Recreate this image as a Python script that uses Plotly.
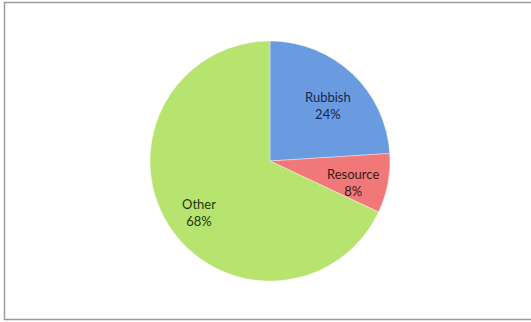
import math
import plotly.graph_objects as go

# Share of items by category
categories = ["Rubbish", "Resource", "Other"]
shares = [24, 8, 68]

slice_colors = ["#6a9be0", "#f17878", "#b7e46f"]
text_colors = ["#17284a", "#3b1717", "#1f360f"]

W, H = 531, 322
CX, CY, R = 270, 161, 120  # pie centre and radius in pixels

fig = go.Figure(
    go.Pie(
        labels=categories,
        values=shares,
        sort=False,
        direction="clockwise",
        rotation=0,
        textinfo="none",
        marker=dict(colors=slice_colors, line=dict(color="rgba(255,255,255,0.6)", width=0.6)),
        showlegend=False,
        hoverinfo="label+percent",
        domain=dict(x=[(CX - R) / W, (CX + R) / W], y=[1 - (CY + R) / H, 1 - (CY - R) / H]),
    )
)

# Category labels placed at each slice's mid-angle, inside the pie
total = sum(shares)
start = 90.0
for name, val, col in zip(categories, shares, text_colors):
    sweep = 360.0 * val / total
    mid = math.radians(start - sweep / 2)
    start -= sweep
    rx = CX + 0.70 * R * math.cos(mid)
    ry = CY - 0.70 * R * math.sin(mid)
    fig.add_annotation(
        xref="paper", yref="paper",
        x=rx / W, y=1 - ry / H,
        yshift=-6,
        text=f"{name}<br>{round(100 * val / total)}%",
        showarrow=False,
        font=dict(family="Lato, Open Sans, sans-serif", size=13, color=col),
        align="center",
        xanchor="center", yanchor="middle",
    )

# Thin grey frame around the chart area
fig.add_shape(
    type="rect",
    xref="paper", yref="paper",
    x0=4.5 / W, x1=1.02, y0=1 - 319.5 / H, y1=1 - 2.5 / H,
    line=dict(color="#9a9a9a", width=1.5),
    fillcolor="rgba(0,0,0,0)",
)

fig.update_layout(
    width=W,
    height=H,
    margin=dict(l=0, r=0, t=0, b=0),
    paper_bgcolor="white",
    plot_bgcolor="white",
)

fig.write_html("out.html")
